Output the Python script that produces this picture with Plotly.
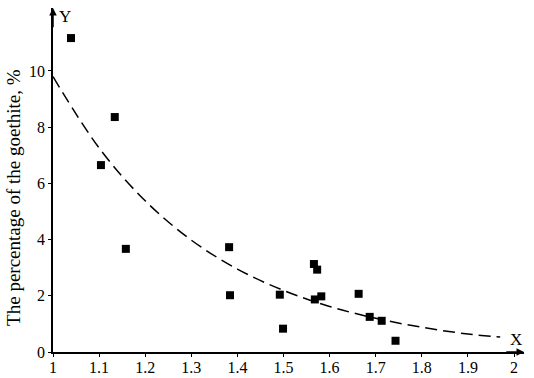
import plotly.graph_objects as go

# Measured points
x_pts = [1.039, 1.104, 1.134, 1.158, 1.382, 1.384, 1.492, 1.499, 1.566, 1.573,
         1.568, 1.582, 1.663, 1.687, 1.713, 1.743]
y_pts = [11.17, 6.65, 8.36, 3.67, 3.73, 2.02, 2.04, 0.83, 3.13, 2.93,
         1.87, 1.98, 2.07, 1.25, 1.11, 0.40]

# Trend curve
x_fit = [1.0, 1.1, 1.2, 1.3, 1.4, 1.5, 1.6, 1.7, 1.8, 1.9, 1.97]
y_fit = [9.8, 7.26, 5.38, 3.98, 2.95, 2.19, 1.62, 1.20, 0.88, 0.64, 0.53]

x_ticks = [1, 1.1, 1.2, 1.3, 1.4, 1.5, 1.6, 1.7, 1.8, 1.9, 2]
x_tick_labels = ["1", "1.1", "1.2", "1.3", "1.4", "1.5", "1.6", "1.7", "1.8", "1.9", "2"]
y_ticks = [0, 2, 4, 6, 8, 10]
y_tick_labels = ["0", "2", "4", "6", "8", "10"]

FONT = "Liberation Serif, Times New Roman, serif"

fig = go.Figure()
fig.add_trace(go.Scatter(x=x_fit, y=y_fit, mode="lines",
                         line=dict(color="black", width=1.5, dash="12px,6px", shape="spline"),
                         hoverinfo="skip", showlegend=False))
fig.add_trace(go.Scatter(x=x_pts, y=y_pts, mode="markers",
                         marker=dict(symbol="square", size=8, color="black"),
                         showlegend=False))

fig.update_layout(
    width=534, height=378, autosize=False,
    margin=dict(l=53, r=10, t=8, b=26, autoexpand=False),
    paper_bgcolor="white", plot_bgcolor="white",
    font=dict(family=FONT, size=16, color="black"),
    xaxis=dict(range=[1, 2.0217], tickvals=x_ticks, ticktext=x_tick_labels, automargin=False,
               showgrid=False, zeroline=False, showline=True, linecolor="black", linewidth=1.5,
               ticks="outside", ticklen=3, tickcolor="black", ticklabelstandoff=-3,
               tickfont=dict(size=16, family=FONT)),
    yaxis=dict(range=[0, 12.24], tickvals=y_ticks, ticktext=y_tick_labels, automargin=False,
               showgrid=False, zeroline=False, showline=True, linecolor="black", linewidth=1.5,
               ticks="outside", ticklen=3, tickcolor="black", tickfont=dict(size=16, family=FONT)),
)

# axis arrows
fig.add_annotation(x=1, y=12.24, ax=1, ay=11.5, xref="x", yref="y", axref="x", ayref="y",
                   showarrow=True, arrowhead=2, arrowsize=1, arrowwidth=1.5, arrowcolor="black", text="")
fig.add_annotation(x=2.0217, y=0, ax=1.98, ay=0, xref="x", yref="y", axref="x", ayref="y",
                   showarrow=True, arrowhead=2, arrowsize=1, arrowwidth=1.5, arrowcolor="black", text="")
fig.add_annotation(x=1.026, y=11.95, xref="x", yref="y", text="Y", showarrow=False,
                   font=dict(size=17, family=FONT))
fig.add_annotation(x=2.005, y=0.45, xref="x", yref="y", text="X", showarrow=False,
                   font=dict(size=17, family=FONT))
fig.add_annotation(x=0, y=0.448, xref="paper", yref="paper", xanchor="center", yanchor="middle",
                   xshift=-39, text="The percentage of the goethite, %", textangle=-90,
                   showarrow=False, font=dict(size=19, family=FONT))

fig.write_html("out.html", config={"displayModeBar": False},
               post_script="document.body.style.margin='0';")
